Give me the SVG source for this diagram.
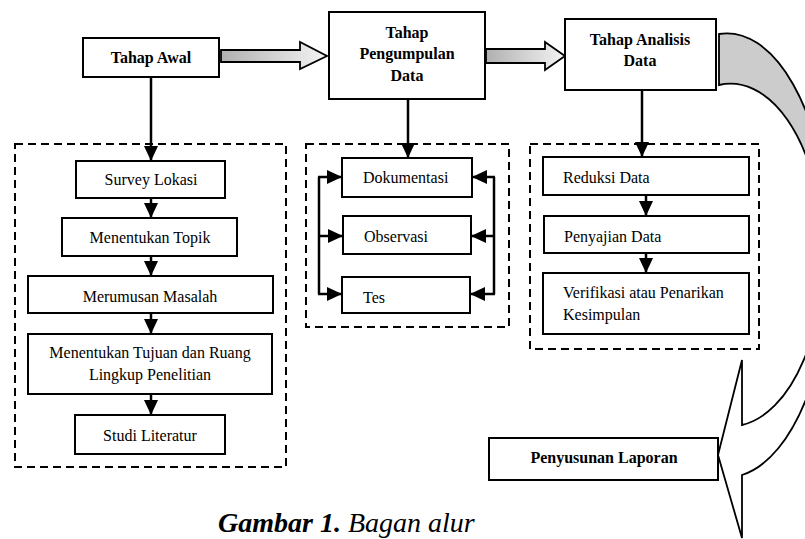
<svg xmlns="http://www.w3.org/2000/svg" width="805" height="539" viewBox="0 0 805 539" font-family="Times New Roman, Times, Liberation Serif, serif">
<style>
.box{fill:#fff;stroke:#000;stroke-width:2}
.dash{fill:none;stroke:#000;stroke-width:2;stroke-dasharray:8 5}
.t{font-size:16px;fill:#000}
.b{font-weight:bold;text-anchor:middle}
.c{text-anchor:middle}
.ln{fill:none;stroke:#000;stroke-width:2.5}
.blk{stroke:#000;stroke-width:1.8;stroke-linejoin:miter}
.cap{font-size:28px;font-style:italic;fill:#000}
</style>
<defs>
<linearGradient id="gh" x1="0" y1="0" x2="1" y2="0">
<stop offset="0" stop-color="#b0b0b0"/>
<stop offset="1" stop-color="#f4f4f4"/>
</linearGradient>
<linearGradient id="gv" gradientUnits="userSpaceOnUse" x1="0" y1="34" x2="0" y2="420">
<stop offset="0" stop-color="#cccccc"/>
<stop offset="0.55" stop-color="#cccccc"/>
<stop offset="0.75" stop-color="#ffffff"/>
<stop offset="1" stop-color="#ffffff"/>
</linearGradient>
<marker id="ah" viewBox="0 0 15 14" refX="15" refY="7" markerWidth="15" markerHeight="14" markerUnits="userSpaceOnUse" orient="auto">
<path d="M0,0 L15,7 L0,14 Z" fill="#000"/>
</marker>
</defs>

<g id="connectors">
<path class="blk" fill="url(#gh)" d="M221,50 L300,50 L300,42 L327,56 L300,69 L300,62 L221,62 Z"/>
<path class="blk" fill="url(#gh)" d="M486,49 L545,49 L545,42 L565,56 L545,70 L545,63 L486,63 Z"/>
<path class="blk" fill="url(#gv)" d="M719,34 A104,222 0 0 1 742,475 L742,538 L718,455 L742,360 L742,425 A92.5,171 0 0 0 719,85 Z"/>
<line class="ln" x1="151" y1="77" x2="151" y2="161" marker-end="url(#ah)"/>
<line class="ln" x1="151" y1="198" x2="151" y2="218" marker-end="url(#ah)"/>
<line class="ln" x1="151" y1="256" x2="151" y2="276" marker-end="url(#ah)"/>
<line class="ln" x1="151" y1="313" x2="151" y2="334" marker-end="url(#ah)"/>
<line class="ln" x1="151" y1="394" x2="151" y2="415" marker-end="url(#ah)"/>
<line class="ln" x1="408" y1="99" x2="408" y2="158" marker-end="url(#ah)"/>
<line class="ln" x1="319" y1="177" x2="319" y2="294"/>
<line class="ln" x1="318" y1="177" x2="342" y2="177" marker-end="url(#ah)"/>
<line class="ln" x1="318" y1="236" x2="343" y2="236" marker-end="url(#ah)"/>
<line class="ln" x1="318" y1="294" x2="342" y2="294" marker-end="url(#ah)"/>
<line class="ln" x1="494" y1="177" x2="494" y2="294"/>
<line class="ln" x1="495" y1="177" x2="472" y2="177" marker-end="url(#ah)"/>
<line class="ln" x1="495" y1="236" x2="471" y2="236" marker-end="url(#ah)"/>
<line class="ln" x1="495" y1="294" x2="470" y2="294" marker-end="url(#ah)"/>
<line class="ln" x1="642" y1="90" x2="642" y2="157" marker-end="url(#ah)"/>
<line class="ln" x1="646" y1="195" x2="646" y2="216" marker-end="url(#ah)"/>
<line class="ln" x1="646" y1="253" x2="646" y2="273" marker-end="url(#ah)"/>
</g>

<rect class="dash" x="15" y="144" width="271" height="323"/>
<rect class="dash" x="306" y="144" width="203" height="183"/>
<rect class="dash" x="530" y="144" width="229" height="205"/>

<g id="tahap-awal">
<rect class="box" x="83" y="38" width="136" height="39"/>
<text class="t b" x="151" y="63">Tahap Awal</text>
</g>
<g id="tahap-pengumpulan">
<rect class="box" x="329" y="12" width="156" height="87"/>
<text class="t b" x="407" y="38">Tahap</text>
<text class="t b" x="407" y="59">Pengumpulan</text>
<text class="t b" x="407" y="81">Data</text>
</g>
<g id="tahap-analisis">
<rect class="box" x="565" y="19" width="151" height="71"/>
<text class="t b" x="640" y="45">Tahap Analisis</text>
<text class="t b" x="640" y="66">Data</text>
</g>
<g id="survey">
<rect class="box" x="76" y="161" width="149" height="37"/>
<text class="t c" x="151" y="185">Survey Lokasi</text>
</g>
<g id="topik">
<rect class="box" x="62" y="218" width="175" height="38"/>
<text class="t c" x="150" y="243">Menentukan Topik</text>
</g>
<g id="masalah">
<rect class="box" x="28" y="276" width="245" height="37"/>
<text class="t c" x="150" y="302">Merumusan Masalah</text>
</g>
<g id="tujuan">
<rect class="box" x="28" y="334" width="244" height="60"/>
<text class="t c" x="150" y="358">Menentukan Tujuan dan Ruang</text>
<text class="t c" x="150" y="380">Lingkup Penelitian</text>
</g>
<g id="studi">
<rect class="box" x="75" y="415" width="150" height="39"/>
<text class="t c" x="150" y="441">Studi Literatur</text>
</g>
<g id="dokumentasi">
<rect class="box" x="342" y="158" width="130" height="39"/>
<text class="t" x="363" y="183">Dokumentasi</text>
</g>
<g id="observasi">
<rect class="box" x="343" y="216" width="128" height="38"/>
<text class="t" x="364" y="242">Observasi</text>
</g>
<g id="tes">
<rect class="box" x="342" y="277" width="128" height="36"/>
<text class="t" x="363" y="303">Tes</text>
</g>
<g id="reduksi">
<rect class="box" x="543" y="157" width="206" height="38"/>
<text class="t" x="563" y="183">Reduksi Data</text>
</g>
<g id="penyajian">
<rect class="box" x="544" y="216" width="205" height="37"/>
<text class="t" x="564" y="242">Penyajian Data</text>
</g>
<g id="verifikasi">
<rect class="box" x="543" y="273" width="206" height="61"/>
<text class="t" x="563" y="298">Verifikasi atau Penarikan</text>
<text class="t" x="563" y="320">Kesimpulan</text>
</g>
<g id="penyusunan">
<rect class="box" x="489" y="438" width="229" height="42"/>
<text class="t b" x="604" y="463">Penyusunan Laporan</text>
</g>
<text class="cap" x="218" y="532"><tspan font-weight="bold">Gambar 1.</tspan> Bagan alur</text>
</svg>
